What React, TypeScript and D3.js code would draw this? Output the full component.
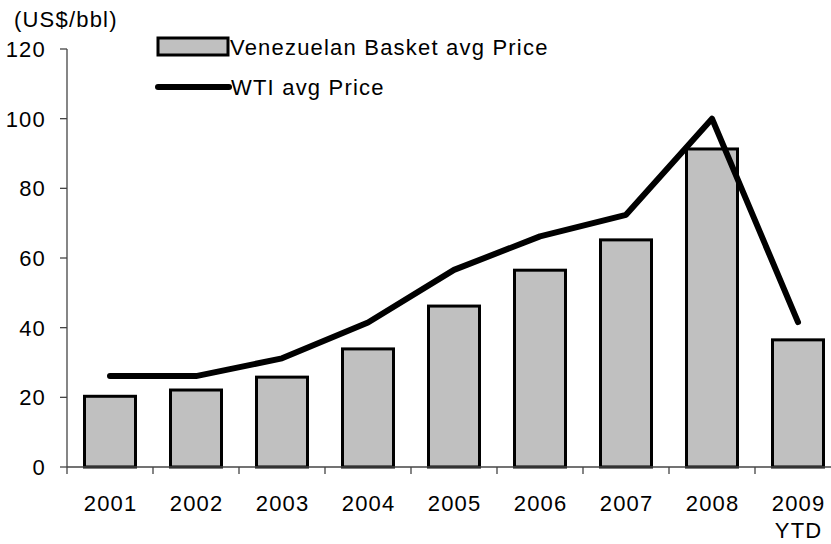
import React from 'react';
import * as d3 from 'd3';

// chart data
const years = ['2001', '2002', '2003', '2004', '2005', '2006', '2007', '2008', '2009'];
const yearSub = ['', '', '', '', '', '', '', '', 'YTD'];
const basketPrice = [20.3, 22.1, 25.8, 33.9, 46.2, 56.5, 65.2, 91.3, 36.5];
const wtiPrice = [26.1, 26.1, 31.2, 41.5, 56.6, 66.2, 72.4, 100.0, 41.6];
const yTicks = [0, 20, 40, 60, 80, 100, 120];

const W = 831;
const H = 544;
const FONT = 'Liberation Sans, Arial, sans-serif';

export default function App() {
    const left = 67;
    const step = 86;

    const x = d3.scaleBand<string>()
        .domain(years)
        .range([left, left + step * years.length])
        .paddingInner(0.407)
        .paddingOuter(0.2035);

    const y = d3.scaleLinear().domain([0, 120]).range([467, 49]);

    const line = d3.line<number>()
        .x((_, i) => (x(years[i]) ?? 0) + x.bandwidth() / 2)
        .y(d => y(d));

    const axisColor = '#444';
    const mid = (yr: string) => (x(yr) ?? 0) + x.bandwidth() / 2;

    return (
        <svg width={W} height={H} style={{ position: 'absolute', left: 0, top: 0 }}
            fontFamily={FONT} fontSize={22} letterSpacing={1.2}>
            <rect width={W} height={H} fill="#fff" />

            {/* y axis */}
            <line x1={left} x2={left} y1={y(120)} y2={y(0) + 7} stroke={axisColor} strokeWidth={1.3} />
            {yTicks.map(t => (
                <g key={t}>
                    <line x1={left - 7} x2={left} y1={y(t)} y2={y(t)} stroke={axisColor} strokeWidth={1.3} />
                    <text x={left - 21} y={y(t)} dy="0.36em" textAnchor="end">{t}</text>
                </g>
            ))}
            <text x={14} y={27}>(US$/bbl)</text>

            {/* bars */}
            {years.map((yr, i) => (
                <rect key={yr}
                    x={x(yr)}
                    y={y(basketPrice[i])}
                    width={x.bandwidth()}
                    height={y(0) - y(basketPrice[i])}
                    fill="#c0c0c0"
                    stroke="#000"
                    strokeWidth={3} />
            ))}

            {/* x axis */}
            <line x1={left} x2={W} y1={y(0)} y2={y(0)} stroke={axisColor} strokeWidth={1.3} />
            {years.map((yr, i) => {
                const bx = (x(yr) ?? 0) - (x.step() - x.bandwidth()) / 2 + x.step();
                return (
                    <g key={yr}>
                        <line x1={bx} x2={bx} y1={y(0)} y2={y(0) + 7} stroke={axisColor} strokeWidth={1.3} />
                        <text x={mid(yr) + 0.6} y={511} textAnchor="middle">{yr}</text>
                        {yearSub[i] && (
                            <text x={mid(yr) + 0.6} y={538} textAnchor="middle">{yearSub[i]}</text>
                        )}
                    </g>
                );
            })}

            {/* WTI line */}
            <path d={line(wtiPrice) ?? ''} fill="none" stroke="#000" strokeWidth={6} strokeLinejoin="round" strokeLinecap="round" />

            {/* legend */}
            <rect x={158} y={38} width={70} height={17} fill="#c0c0c0" stroke="#000" strokeWidth={3} />
            <text x={230} y={47} dy="0.36em">Venezuelan Basket avg Price</text>
            <line x1={158} x2={229} y1={87} y2={87} stroke="#000" strokeWidth={6} strokeLinecap="round" />
            <text x={231} y={87} dy="0.36em">WTI avg Price</text>
        </svg>
    );
}
